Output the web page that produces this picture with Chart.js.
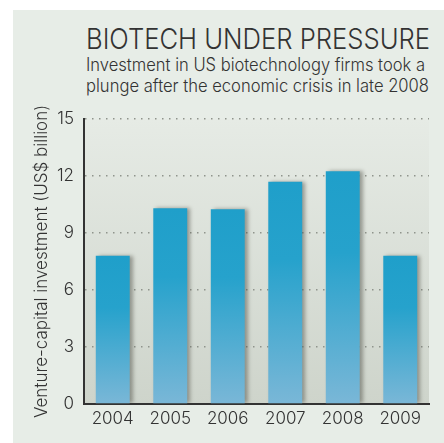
<!DOCTYPE html>
<html>
<head>
<meta charset="utf-8">
<script src="https://cdn.jsdelivr.net/npm/chart.js@4"></script>
<style>
  html, body { margin: 0; padding: 0; background: #fff; }
  #wrap { position: relative; width: 444px; height: 443px; overflow: hidden; }
  #panel { position: absolute; left: 13px; top: 10px; right: 0; bottom: 0; background: #e7ede7; }
  #chartBox { position: absolute; left: 0; top: 0; width: 444px; height: 443px; }
  .txt { position: absolute; left: 86px; white-space: nowrap; color: #333; font-family: Inter, "Open Sans", sans-serif; transform-origin: 0 0; }
  #title { top: 22px; font-size: 29px; font-weight: 300; line-height: 34px; }
  #sub1 { top: 54px; font-size: 18px; font-weight: 350; line-height: 22px; }
  #sub2 { top: 75px; font-size: 18px; font-weight: 350; line-height: 22px; }
</style>
</head>
<body>
<div id="wrap">
  <div id="panel"></div>
  <div class="txt" id="title" data-w="344">BIOTECH UNDER PRESSURE</div>
  <div class="txt" id="sub1" data-w="339">Investment in US biotechnology firms took a</div>
  <div class="txt" id="sub2" data-w="343">plunge after the economic crisis in late 2008</div>
  <div id="chartBox"><canvas id="myChart"></canvas></div>
</div>
<script>
// data
const years = ['2004', '2005', '2006', '2007', '2008', '2009'];
const investment = [7.8, 10.3, 10.25, 11.7, 12.25, 7.8];
const yTicks = [0, 3, 6, 9, 12, 15];

// squeeze the heading lines to the width they take in the original
document.querySelectorAll('.txt').forEach(el => {
    let w = el.getBoundingClientRect().width;
    el.style.transform = 'scaleX(' + (el.dataset.w / w) + ')';
});

const tickFont = { family: 'Inter', size: 17, weight: 300 };

// plot area background
const areaBg = {
    id: 'areaBg',
    beforeDraw(chart) {
        const {ctx, chartArea: a} = chart;
        let g = ctx.createLinearGradient(0, a.top, 0, a.bottom);
        g.addColorStop(0, '#e6ebe5');
        g.addColorStop(1, '#ced4cb');
        ctx.save();
        ctx.fillStyle = g;
        ctx.fillRect(a.left, a.top, a.right - a.left, a.bottom - a.top);
        ctx.restore();
    }
};

// soft shadow to the right of the bars
const barShadow = {
    id: 'barShadow',
    beforeDatasetsDraw(chart) {
        const ctx = chart.ctx;
        ctx.save();
        ctx.shadowColor = 'rgba(60, 60, 50, 0.45)';
        ctx.shadowOffsetX = 3;
        ctx.shadowOffsetY = 0;
        ctx.shadowBlur = 4;
    },
    afterDatasetsDraw(chart) {
        chart.ctx.restore();
    }
};

function barColor(c) {
    const chart = c.chart;
    const y = chart.scales.y;
    if (!chart.chartArea || !y) return '#2aa3cc';
    let top = y.getPixelForValue(c.raw);
    let bottom = y.getPixelForValue(0);
    let g = chart.ctx.createLinearGradient(0, top, 0, bottom);
    g.addColorStop(0, '#1f9fca');
    g.addColorStop(0.35, '#26a2cc');
    g.addColorStop(1, '#7ab7d7');
    return g;
}

let ctx = document.getElementById('myChart').getContext('2d');
let myChart = new Chart(ctx, {
    type: 'bar',
    data: {
        labels: years,
        datasets: [{
            data: investment,
            backgroundColor: barColor,
            borderWidth: 0,
            barPercentage: 0.59,
            categoryPercentage: 1
        }]
    },
    options: {
        responsive: true,
        maintainAspectRatio: false,
        animation: false,
        layout: { padding: { top: 119, right: 15, left: 0, bottom: 0 } },
        plugins: {
            legend: { display: false },
            tooltip: { enabled: false }
        },
        scales: {
            x: {
                grid: { display: false, drawTicks: false },
                border: { color: '#333', width: 2 },
                ticks: { color: '#333', font: tickFont, padding: 5, maxRotation: 0 },
                afterFit(scale) { scale.height = 39; }
            },
            y: {
                min: 0,
                max: 15,
                afterBuildTicks(scale) { scale.ticks = yTicks.map(v => ({ value: v })); },
                grid: {
                    color: '#8f948c',
                    lineWidth: 1.5,
                    drawTicks: false
                },
                border: { color: '#333', width: 2, dash: [1.5, 5.5] },
                ticks: { color: '#333', font: tickFont, padding: 10 },
                title: {
                    display: true,
                    text: 'Venture-capital investment (US$ billion)',
                    color: '#333',
                    font: { family: 'Inter', size: 17, weight: 300 },
                    padding: { top: 32, bottom: 0 }
                },
                afterFit(scale) { scale.width = 84; }
            }
        }
    },
    plugins: [areaBg, barShadow]
});
</script>
</body>
</html>
